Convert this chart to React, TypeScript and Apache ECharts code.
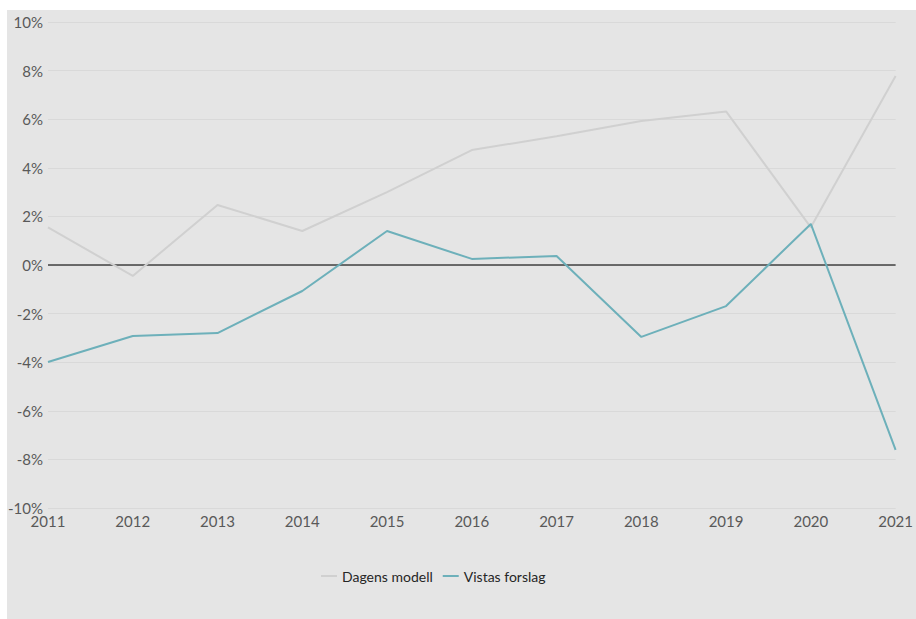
import React, { useEffect, useRef } from "react";
import * as echarts from "echarts";

const years = ["2011", "2012", "2013", "2014", "2015", "2016", "2017", "2018", "2019", "2020", "2021"];
const dagensModell = [1.55, -0.45, 2.47, 1.4, 3.0, 4.73, 5.3, 5.93, 6.32, 1.55, 7.78];
const vistasForslag = [-3.99, -2.92, -2.8, -1.07, 1.4, 0.25, 0.37, -2.96, -1.69, 1.69, -7.61];

export default function App() {
  const ref = useRef<HTMLDivElement>(null);
  useEffect(() => {
    if (!ref.current) return;
    const chart = echarts.init(ref.current, null, { renderer: "svg" });
    chart.setOption({
      animation: false,
      textStyle: { fontFamily: "Lato" },
      graphic: [
        {
          type: "rect",
          z: -10,
          shape: { x: 7, y: 10, width: 909, height: 609 },
          style: { fill: "#e5e5e5" },
          silent: true,
        },
      ],
      grid: { left: 48, right: 20, top: 22, bottom: 111 },
      legend: {
        top: 564,
        left: 316,
        itemWidth: 16,
        itemHeight: 2,
        itemGap: 10,
        icon: "rect",
        textStyle: { fontSize: 14, color: "#262626", fontFamily: "Lato" },
        data: ["Dagens modell", "Vistas forslag"],
      },
      xAxis: {
        type: "category",
        data: years,
        boundaryGap: false,
        axisLine: { show: false },
        axisTick: { show: false },
        axisLabel: { color: "#595959", fontSize: 15, margin: 5, fontFamily: "Lato" },
      },
      yAxis: {
        type: "value",
        min: -10,
        max: 10,
        interval: 2,
        axisLine: { show: false },
        axisTick: { show: false },
        axisLabel: { color: "#595959", fontSize: 15, margin: 5, formatter: "{value}%", fontFamily: "Lato" },
        splitLine: { lineStyle: { color: "#d9d9d9", width: 1 } },
      },
      series: [
        {
          name: "Dagens modell",
          type: "line",
          data: dagensModell,
          symbol: "none",
          lineStyle: { color: "#d0d0d0", width: 2 },
          itemStyle: { color: "#d0d0d0" },
          z: 2,
        },
        {
          name: "Vistas forslag",
          type: "line",
          data: vistasForslag,
          symbol: "none",
          lineStyle: { color: "#6db0ba", width: 2 },
          itemStyle: { color: "#6db0ba" },
          z: 3,
          markLine: {
            silent: true,
            symbol: "none",
            label: { show: false },
            lineStyle: { color: "#404040", width: 1.5, type: "solid" },
            data: [{ yAxis: 0 }],
            z: 1,
          },
        },
      ],
    });
    return () => chart.dispose();
  }, []);
  return <div ref={ref} style={{ position: "absolute", left: 0, top: 0, width: 916, height: 619 }} />;
}
